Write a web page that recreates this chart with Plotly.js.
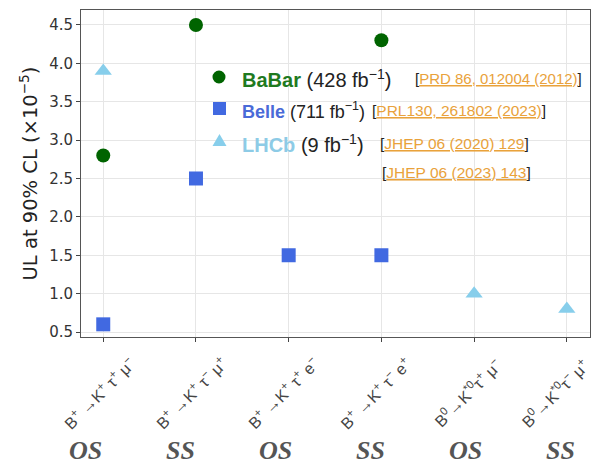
<!DOCTYPE html>
<html>
<head>
<meta charset="utf-8">
<script src="https://cdn.plot.ly/plotly-3.0.1.min.js"></script>
<style>html,body{margin:0;padding:0;background:#fff;}#chart{width:600px;height:465px;}</style>
</head>
<body>
<div id="chart"></div>
<script>
// ---- data ----
const categories = ['B+K+tau+mu-', 'B+K+tau-mu+', 'B+K+tau+e-', 'B+K+tau-e+', 'B0K*0tau+mu-', 'B0K*0tau-mu+'];
const tickLabels = [
  'B<sup>+</sup> →K<sup>+</sup> τ<sup>+</sup> μ<sup>−</sup>',
  'B<sup>+</sup> →K<sup>+</sup> τ<sup>−</sup> μ<sup>+</sup>',
  'B<sup>+</sup> →K<sup>+</sup> τ<sup>+</sup> e<sup>−</sup>',
  'B<sup>+</sup> →K<sup>+</sup> τ<sup>−</sup> e<sup>+</sup>',
  'B<sup>0</sup>→K<sup>*0</sup>τ<sup>+</sup> μ<sup>−</sup>',
  'B<sup>0</sup>→K<sup>*0</sup>τ<sup>−</sup> μ<sup>+</sup>'
];
const chargeLabels = ['OS', 'SS', 'OS', 'SS', 'OS', 'SS'];

const babarX = ['B+K+tau+mu-', 'B+K+tau-mu+', 'B+K+tau-e+'];
const babarY = [2.8, 4.5, 4.3];
const belleX = ['B+K+tau+mu-', 'B+K+tau-mu+', 'B+K+tau+e-', 'B+K+tau-e+'];
const belleY = [0.6, 2.5, 1.5, 1.5];
const lhcbX = ['B+K+tau+mu-', 'B0K*0tau+mu-', 'B0K*0tau-mu+'];
const lhcbY = [3.9, 1.0, 0.8];

const yTicks = [0.5, 1.0, 1.5, 2.0, 2.5, 3.0, 3.5, 4.0, 4.5];

// ---- styling / layout ----
const GREEN = '#006400', BLUE = '#4169E1', SKY = '#87CEEB', ORANGE = '#E9A23B';
const ML = 81, MR = 10, MT = 10, MB = 128, W = 600, H = 465;
const PW = W - ML - MR, PH = H - MT - MB;
const px = x => (x - ML) / PW;
const py = y => (H - MB - y) / PH;
const labelShift = [-4, -5, -6, -6, -7, -12];

const traces = [
  {x: babarX, y: babarY, type: 'scatter', mode: 'markers', name: 'BaBar',
   marker: {symbol: 'circle', size: 14, color: GREEN}},
  {x: belleX, y: belleY, type: 'scatter', mode: 'markers', name: 'Belle',
   marker: {symbol: 'square', size: 14, color: BLUE}},
  {x: lhcbX, y: lhcbY, type: 'scatter', mode: 'markers', name: 'LHCb',
   marker: {symbol: 'triangle-up', size: 15, color: SKY}}
];

const DJ = 'DejaVu Sans, sans-serif';
const LF = 'Liberation Sans, Arial, sans-serif';

const annotations = [];
categories.forEach((c, i) => {
  annotations.push({x: c, xref: 'x', yref: 'paper', y: -0.171, xshift: labelShift[i],
    text: tickLabels[i], textangle: -45, showarrow: false,
    font: {family: LF, size: 16, color: '#444'},
    xanchor: 'center', yanchor: 'middle'});
  annotations.push({x: c, xref: 'x', yref: 'paper', y: -0.346, xshift: -18 + 2.4 * i,
    text: '<b><i>' + chargeLabels[i] + '</i></b>', showarrow: false,
    font: {family: 'Liberation Serif, Times New Roman, serif', size: 26, color: '#555'},
    xanchor: 'center', yanchor: 'middle'});
});

const leg = [
  {x: 240, y: 78, size: 20, text: '<b><span style="color:#1f7a1f">BaBar</span></b> (428 fb<sup>−1</sup>)'},
  {x: 413, y: 78, size: 15, text: '[<span style="color:' + ORANGE + '"><u>PRD 86, 012004 (2012)</u></span>]'},
  {x: 240, y: 110, size: 18, text: '<b><span style="color:#4a6ad8">Belle</span></b> (711 fb<sup>−1</sup>)'},
  {x: 370, y: 110, size: 15.5, text: '[<span style="color:' + ORANGE + '"><u>PRL130, 261802 (2023)</u></span>]'},
  {x: 240, y: 143, size: 20, text: '<b><span style="color:#8dcbe6">LHCb</span></b> (9 fb<sup>−1</sup>)'},
  {x: 378, y: 143, size: 15.5, text: '[<span style="color:' + ORANGE + '"><u>JHEP 06 (2020) 129</u></span>]'},
  {x: 380, y: 172, size: 15.5, text: '[<span style="color:' + ORANGE + '"><u>JHEP 06 (2023) 143</u></span>]'}
];
leg.forEach(l => annotations.push({xref: 'paper', yref: 'paper', x: px(l.x), y: py(l.y),
  xanchor: 'left', yanchor: 'middle', showarrow: false, text: l.text,
  font: {family: LF, size: l.size, color: '#222'}}));

const shapes = [
  {type: 'circle', xref: 'paper', yref: 'paper', x0: px(212.5), x1: px(225.5), y0: py(83.5), y1: py(70.5),
   fillcolor: GREEN, line: {width: 0}},
  {type: 'rect', xref: 'paper', yref: 'paper', x0: px(213), x1: px(226), y0: py(115), y1: py(102),
   fillcolor: BLUE, line: {width: 0}},
  {type: 'path', xref: 'paper', yref: 'paper',
   path: 'M' + px(212.5) + ',' + py(146) + ' L' + px(226.5) + ',' + py(146) + ' L' + px(219.5) + ',' + py(134) + ' Z',
   fillcolor: SKY, line: {width: 0}}
];

const layout = {
  width: W, height: H,
  margin: {l: ML, r: MR, t: MT, b: MB},
  paper_bgcolor: '#fff', plot_bgcolor: '#fff',
  showlegend: false,
  xaxis: {type: 'category', categoryorder: 'array', categoryarray: categories,
    range: [-0.24, 5.25], showticklabels: false, ticks: 'outside', ticklen: 4, tickcolor: '#444',
    showgrid: true, gridcolor: '#e6e6e6', gridwidth: 1,
    showline: true, linecolor: '#555', linewidth: 1, mirror: true, zeroline: false},
  yaxis: {range: [0.435, 4.695], tickvals: yTicks, ticktext: yTicks.map(v => v.toFixed(1)),
    ticks: 'outside', ticklen: 4, tickcolor: '#444',
    tickfont: {family: DJ, size: 15, color: '#333'},
    showgrid: true, gridcolor: '#e6e6e6', gridwidth: 1,
    showline: true, linecolor: '#555', linewidth: 1, mirror: true, zeroline: false,
    title: {text: 'UL at 90% CL (×10<sup>−5</sup>)', standoff: 6,
      font: {family: DJ, size: 19.5, color: '#222'}}},
  annotations: annotations,
  shapes: shapes
};

Plotly.newPlot('chart', traces, layout, {displayModeBar: false, staticPlot: true});
</script>
</body>
</html>
